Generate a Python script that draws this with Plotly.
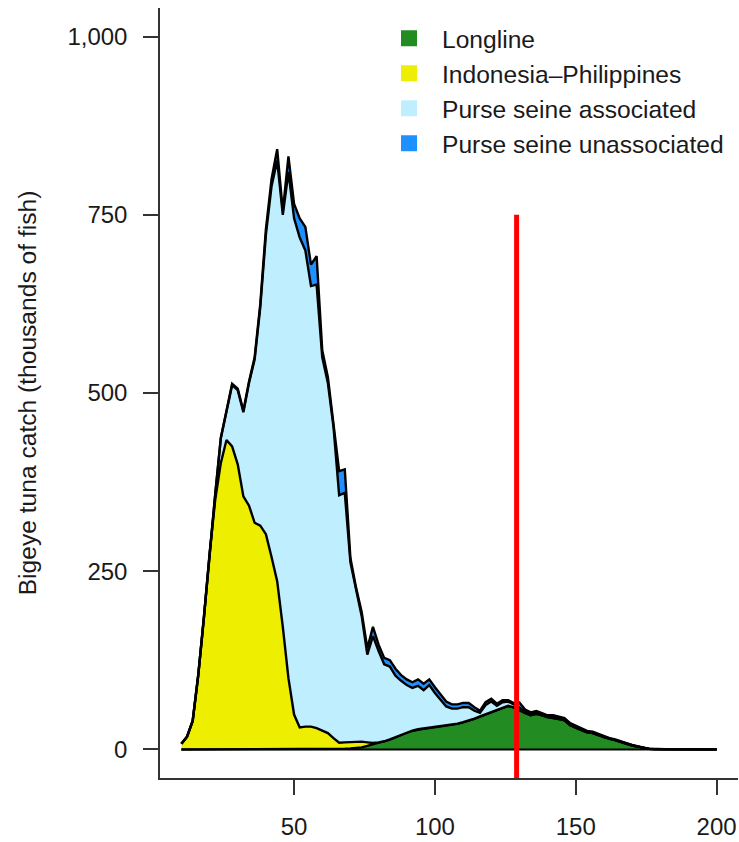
import plotly.graph_objects as go

# Fork length bins (cm)
lengths = list(range(10, 202, 2))

# Catch by gear (thousands of fish) per 2 cm bin
longline = [
    0, 0, 0, 0, 0, 0, 0, 0, 0, 0,
    0, 0, 0, 0, 0, 0, 0, 0, 0, 0,
    0, 0, 0, 0, 0, 0, 0, 0, 0.5, 1,
    1.5, 2, 3, 5, 7, 9, 11, 14, 17, 21,
    24, 26, 28, 29, 30, 31, 32, 33, 35, 36,
    38, 40, 43, 46, 49, 52, 55, 58, 61, 59,
    55, 51, 48, 50, 48, 45, 44, 43, 41, 34,
    30, 27, 24, 23, 20, 17, 15, 13, 11, 8,
    5.5, 3.7, 1.8, 0.9, 0.5, 0.4, 0.35, 0.3, 0.3, 0.25,
    0.25, 0.2, 0.2, 0.2, 0.2, 0.2,
]
indonesia_philippines = [
    8, 18, 40, 105, 185, 275, 350, 402, 434, 425,
    400, 355, 342, 318, 314, 302, 270, 236, 172, 100,
    49, 31, 32, 32, 30, 26, 23, 16, 9, 9,
    9, 9, 8, 5, 2, 1, 0.5, 0.3, 0.3, 0.3,
    0.3, 0.3, 0.3, 0.3, 0.3, 0.3, 0.3, 0.3, 0.3, 0.3,
    0.3, 0.3, 0.3, 0.3, 0.3, 0.3, 0.2, 0.2, 0.2, 0.1,
    0, 0, 0, 0, 0, 0, 0, 0, 0, 0,
    0, 0, 0, 0, 0, 0, 0, 0, 0, 0,
    0, 0, 0, 0, 0, 0, 0, 0, 0, 0,
    0, 0, 0, 0, 0, 0,
]
ps_associated = [
    0, 0, 0, 0, 1, 2, 8, 35, 41, 86,
    104, 118, 172, 229, 306, 420, 520, 590, 578, 710,
    696, 687, 668, 618, 622, 524, 491, 436, 347, 350,
    252, 211, 176, 123, 150, 128, 108, 102, 86, 75,
    66, 60, 61, 54, 60, 48, 37, 27, 22, 21,
    21, 19, 11, 5, 13, 15, 6, 8, 6, 4,
    4, 2, 2, 2, 1.5, 1.5, 2, 1.5, 1.5, 1.5,
    1.5, 1, 1, 1, 1, 0.5, 0.5, 0.5, 0.5, 0.5,
    0.5, 0.3, 0.2, 0.1, 0.05, 0.05, 0, 0, 0, 0,
    0, 0, 0, 0, 0, 0,
]
ps_unassociated = [
    0, 0, 0, 0, 0, 0, 0, 0, 1, 2,
    2, 2, 2, 3, 5, 8, 10, 16, 5, 22,
    20, 27, 33, 30, 40, 10, 8, 8, 34, 33,
    6, 5, 6, 9, 13, 9, 9, 9, 10, 8,
    8, 8, 9, 9, 8, 8, 8, 7, 6, 6,
    6, 6, 5, 3, 4, 4, 3, 3, 2, 2,
    7, 3, 2, 2, 1.5, 1.5, 2, 1.5, 1.5, 1.5,
    1.5, 1, 1, 1, 1, 0.5, 0.5, 0.5, 0.5, 0.5,
    0.5, 0.2, 0.1, 0.1, 0.05, 0.05, 0, 0, 0, 0,
    0, 0, 0, 0, 0, 0,
]

series_names = ["Longline", "Indonesia\u2013Philippines",
                "Purse seine associated", "Purse seine unassociated"]
series_colors = ["#228B22", "#EEEE00", "#BFEFFF", "#1E90FF"]
series_values = [longline, indonesia_philippines, ps_associated, ps_unassociated]

# Reference length marker
ref_length = 129
ref_top = 750

y_ticks = [0, 250, 500, 750, 1000]
y_tick_text = ["0", "250", "500", "750", "1,000"]
x_ticks = [50, 100, 150, 200]

FONT = "Liberation Sans, Arial, sans-serif"
TEXT_SIZE = 24

fig = go.Figure()

# Stacked areas, each outlined in black
for name, color, vals in zip(series_names, series_colors, series_values):
    fig.add_trace(go.Scatter(
        x=lengths, y=vals, name=name, stackgroup="catch",
        mode="lines", line=dict(color="black", width=2.4),
        fillcolor=color, showlegend=False, hoverinfo="skip",
    ))

# Baseline outline along zero
fig.add_trace(go.Scatter(
    x=lengths, y=[0] * len(lengths), mode="lines",
    line=dict(color="black", width=1.8), showlegend=False, hoverinfo="skip",
))

# Legend keys
for name, color in zip(series_names, series_colors):
    fig.add_trace(go.Scatter(
        x=[None], y=[None], name=name, mode="markers",
        marker=dict(symbol="square", size=16, color=color),
    ))

x_range = [2.4, 207.6]
y_range = [-40, 1040]

fig.add_shape(type="line", xref="x", yref="y",
              x0=ref_length, x1=ref_length, y0=y_range[0], y1=ref_top,
              line=dict(color="#FF0000", width=5), layer="above")

fig.update_layout(
    width=739, height=842,
    margin=dict(l=160, r=1, t=8, b=64, autoexpand=False),
    paper_bgcolor="white", plot_bgcolor="white",
    font=dict(family=FONT, size=TEXT_SIZE, color="#1a1a1a"),
    legend=dict(
        x=0.3737, y=0.99, xanchor="left", yanchor="top",
        font=dict(size=24.6, color="#1a1a1a"),
        bgcolor="rgba(0,0,0,0)", itemwidth=56,
        traceorder="normal", tracegroupgap=0,
    ),
    xaxis=dict(
        range=x_range, tickvals=x_ticks, showgrid=False, zeroline=False,
        showline=True, linecolor="#333", linewidth=1.5,
        ticks="outside", ticklen=15, tickcolor="#333", tickwidth=1.5,
        ticklabelstandoff=11, automargin=False,
    ),
    yaxis=dict(
        range=y_range, tickvals=y_ticks, ticktext=y_tick_text,
        showgrid=False, zeroline=False,
        showline=True, linecolor="#333", linewidth=1.5,
        ticks="outside", ticklen=15, tickcolor="#333", tickwidth=1.5,
        ticklabelstandoff=11, automargin=False,
        title=dict(text="Bigeye tuna catch (thousands of fish)",
                   font=dict(size=24.6), standoff=24),
    ),
)

fig.write_html("out.html")
